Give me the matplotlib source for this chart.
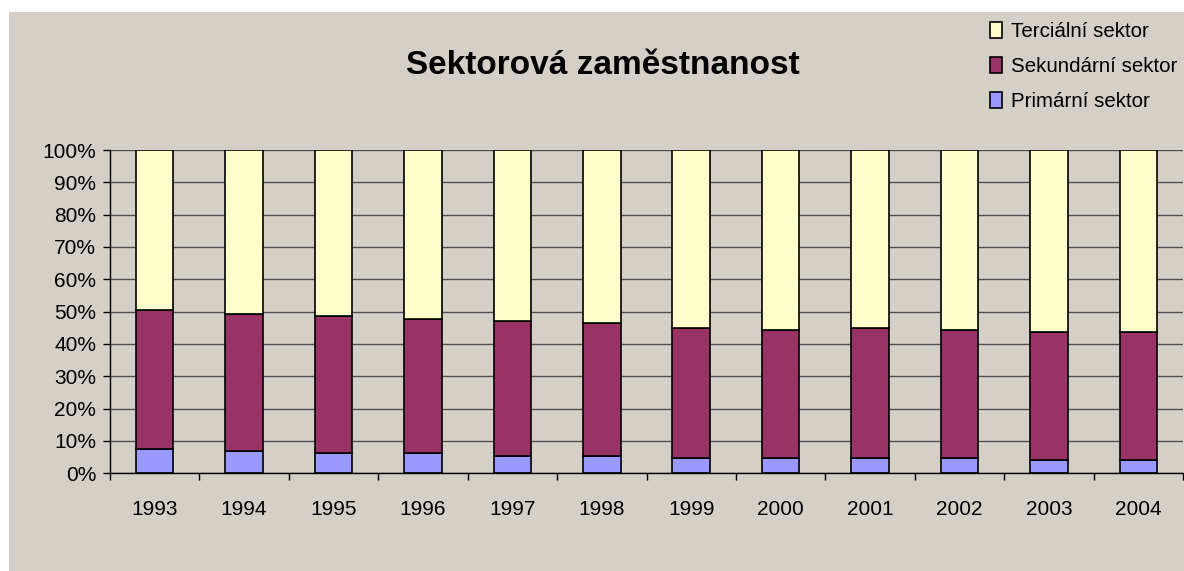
import matplotlib
matplotlib.use("Agg")
import matplotlib.pyplot as plt
from matplotlib.patches import Rectangle, Patch
import numpy as np

years = ["1993", "1994", "1995", "1996", "1997", "1998",
         "1999", "2000", "2001", "2002", "2003", "2004"]
primarni = [7.5, 6.9, 6.2, 6.2, 5.5, 5.5, 4.8, 4.8, 4.8, 4.8, 4.1, 4.1]
sekundarni = [43.0, 42.4, 42.4, 41.5, 41.6, 40.9, 40.2, 39.5, 40.2, 39.5, 39.5, 39.5]
tercialni = [100 - p - s for p, s in zip(primarni, sekundarni)]
yticks = [0, 10, 20, 30, 40, 50, 60, 70, 80, 90, 100]
ytick_labels = [f"{v}%" for v in yticks]

plt.rcParams['font.family'] = ['Liberation Sans', 'DejaVu Sans']

W, H = 1184, 571
fig = plt.figure(figsize=(W / 100, H / 100), dpi=100, facecolor="white")
bg = "#D4D0C8"
fig.patches.append(Rectangle((9 / W, 0), 1 - 9 / W, (H - 12) / H,
                             transform=fig.transFigure, facecolor=bg,
                             edgecolor="none", zorder=-10))

ax = fig.add_axes([110 / W, (H - 473.3) / H, (1183 - 110) / W, 323.3 / H])
ax.set_facecolor(bg)

x = np.arange(len(years))
w = 0.42
ekw = dict(edgecolor="black", linewidth=1.2, zorder=3)
b1 = ax.bar(x, primarni, w, color="#9999FF", **ekw)
b2 = ax.bar(x, sekundarni, w, bottom=primarni, color="#993366", **ekw)
bottom3 = [p + s for p, s in zip(primarni, sekundarni)]
b3 = ax.bar(x, tercialni, w, bottom=bottom3, color="#FFFFCC", **ekw)

ax.set_xlim(-0.5, len(years) - 0.5)
ax.set_ylim(0, 100)
ax.set_yticks(yticks)
ax.set_yticklabels(ytick_labels, fontsize=15)
ax.set_xticks(x)
ax.set_xticklabels(years, fontsize=15)
ax.set_xticks(np.arange(len(years) + 1) - 0.5, minor=True)
ax.tick_params(axis="x", which="major", length=0, pad=19.5)
ax.tick_params(axis="x", which="minor", length=5, width=1, color="black", direction="out")
ax.tick_params(axis="y", which="major", length=5, width=1, color="black", direction="out", pad=5)

ax.grid(axis="y", color="#505050", linewidth=1.0, zorder=1)
ax.set_axisbelow(True)
for s in ["top", "right"]:
    ax.spines[s].set_visible(False)
for s in ["left", "bottom"]:
    ax.spines[s].set_color("black")
    ax.spines[s].set_linewidth(1.0)
    ax.spines[s].set_zorder(4)

fig.text(603 / W, (H - 74) / H, "Sektorová zaměstnanost",
         ha="center", va="baseline", fontsize=24, fontweight="bold")

handles = [Patch(facecolor="#FFFFCC", edgecolor="black", linewidth=1.2),
           Patch(facecolor="#993366", edgecolor="black", linewidth=1.2),
           Patch(facecolor="#9999FF", edgecolor="black", linewidth=1.2)]
labels = ["Terciální sektor", "Sekundární sektor", "Primární sektor"]
fig.legend(handles, labels, loc="upper left",
           bbox_to_anchor=(990 / W, (H - 22) / H), frameon=False,
           fontsize=14.8, handlelength=0.6, handleheight=0.78,
           handletextpad=0.4, labelspacing=0.78, borderpad=0, borderaxespad=0)

fig.savefig("out.png", dpi=100, facecolor="white")
